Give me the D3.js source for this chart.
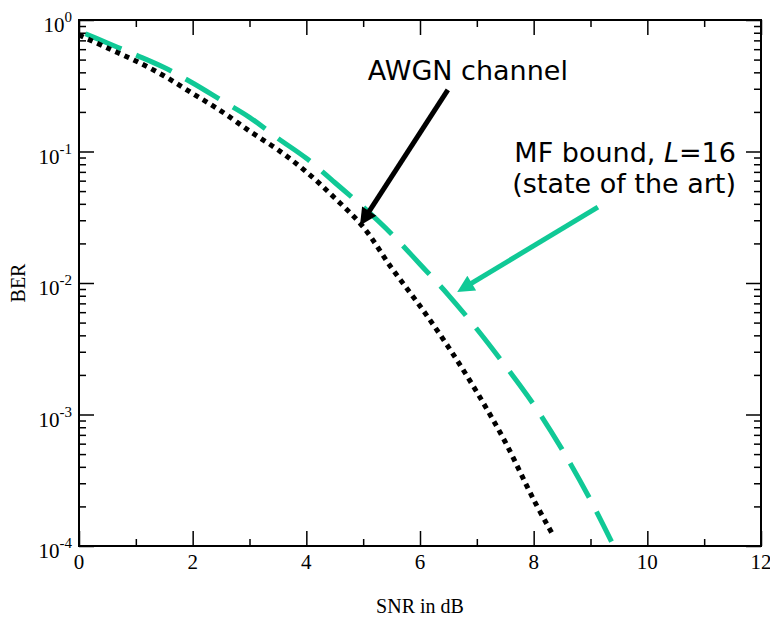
<!DOCTYPE html>
<html>
<head>
<meta charset="utf-8">
<script src="https://cdn.jsdelivr.net/npm/d3@7"></script>
<style>
  body { margin: 0; background: #fff; }
  svg { display: block; }
</style>
</head>
<body>
<div id="chart"></div>
<script>
// SNR in dB and BER
const snr_awgn = [0, 0.5, 1, 1.5, 2, 2.5, 3, 3.5, 4, 4.5, 5, 5.5, 6, 6.5, 7, 7.5, 8, 8.35];
const ber_awgn = [0.769, 0.612, 0.488, 0.375, 0.276, 0.203, 0.143, 0.103, 0.070, 0.0443, 0.0267, 0.0130, 0.00668, 0.00326, 0.00148, 0.000618, 0.000225, 0.000119];

const snr_mf = [0, 0.5, 1, 1.5, 2, 2.5, 3, 3.5, 4, 4.5, 5, 5.5, 6, 6.5, 7, 7.5, 8, 8.5, 9, 9.37];
const ber_mf = [0.824, 0.668, 0.542, 0.435, 0.332, 0.246, 0.182, 0.126, 0.0888, 0.0581, 0.0378, 0.0236, 0.0139, 0.0081, 0.00447, 0.00235, 0.00119, 0.000543, 0.000224, 0.000108];

const x_major = [0, 2, 4, 6, 8, 10, 12];
const x_minor = [1, 3, 5, 7, 9, 11];
const y_major_exp = [0, -1, -2, -3, -4];

// annotation arrows: [x0, y0, x1, y1] tail -> tip, in data units
const arrow_awgn = [6.49, 0.294, 4.96, 0.0281];
const arrow_mf = [9.13, 0.0378, 6.68, 0.00869];

const width = 770, height = 618;
const margin = {top: 20, right: 9, bottom: 72, left: 79};
const w = width - margin.left - margin.right;
const h = height - margin.top - margin.bottom;
const green = "#10c996";

const svg = d3.select("#chart").append("svg")
    .attr("width", width)
    .attr("height", height);

const g = svg.append("g")
    .attr("transform", `translate(${margin.left},${margin.top})`);

const x = d3.scaleLinear().domain([0, 12]).range([0, w]);
const y = d3.scaleLog().domain([1e-4, 1]).range([h, 0]);

// minor y ticks 2..9 per decade
const y_minor = [];
y_major_exp.slice(1).forEach(e => {
    for (let k = 2; k <= 9; k++) y_minor.push(k * Math.pow(10, e));
});
const y_major = y_major_exp.map(e => Math.pow(10, e));

function tickAxis(axis, values, size) {
    return axis.tickValues(values).tickSize(-size).tickFormat("");
}

const axes = g.append("g").attr("class", "axes");
axes.append("g").attr("transform", `translate(0,${h})`).call(tickAxis(d3.axisBottom(x), x_major, 15));
axes.append("g").attr("transform", `translate(0,${h})`).call(tickAxis(d3.axisBottom(x), x_minor, 7));
axes.append("g").call(tickAxis(d3.axisTop(x), x_major, 15));
axes.append("g").call(tickAxis(d3.axisTop(x), x_minor, 7));
axes.append("g").call(tickAxis(d3.axisLeft(y), y_major, 15));
axes.append("g").call(tickAxis(d3.axisLeft(y), y_minor, 7));
axes.append("g").attr("transform", `translate(${w},0)`).call(tickAxis(d3.axisRight(y), y_major, 15));
axes.append("g").attr("transform", `translate(${w},0)`).call(tickAxis(d3.axisRight(y), y_minor, 7));

axes.selectAll(".domain").remove();
axes.selectAll(".tick line").attr("stroke", "#000").attr("stroke-width", 1.5);

g.append("rect")
    .attr("width", w).attr("height", h)
    .attr("fill", "none").attr("stroke", "#000").attr("stroke-width", 2);

// tick labels
const serif = "'Liberation Serif', 'Times New Roman', serif";
g.selectAll(".xlab").data(x_major).enter().append("text")
    .attr("x", d => x(d)).attr("y", h + 23)
    .attr("text-anchor", "middle")
    .style("font-family", serif).style("font-size", "21px")
    .text(d => d);

const ylab = g.selectAll(".ylab").data(y_major_exp).enter().append("text")
    .attr("x", -7).attr("y", d => y(Math.pow(10, d)) + 12)
    .attr("text-anchor", "end")
    .style("font-family", serif).style("font-size", "21px");
ylab.append("tspan").text("10");
ylab.append("tspan").attr("dy", -10).style("font-size", "15px").text(d => d);

// axis titles
svg.append("text")
    .attr("x", margin.left + w / 2).attr("y", 613)
    .attr("text-anchor", "middle")
    .style("font-family", serif).style("font-size", "20px")
    .text("SNR in dB");
svg.append("text")
    .attr("transform", `translate(25,${margin.top + h / 2}) rotate(-90)`)
    .attr("text-anchor", "middle")
    .style("font-family", serif).style("font-size", "20px")
    .text("BER");

// curves
const line = d3.line()
    .x(d => x(d[0]))
    .y(d => y(d[1]))
    .curve(d3.curveCatmullRom.alpha(0.5));

const plot = g.append("g");
plot.append("path")
    .datum(d3.zip(snr_mf, ber_mf))
    .attr("d", line)
    .attr("fill", "none")
    .attr("stroke", green)
    .attr("stroke-width", 5)
    .attr("stroke-dasharray", "39,16")
    .attr("stroke-dashoffset", 48);

plot.append("path")
    .datum(d3.zip(snr_awgn, ber_awgn))
    .attr("d", line)
    .attr("fill", "none")
    .attr("stroke", "#000")
    .attr("stroke-width", 5)
    .attr("stroke-dasharray", "5,5");

// arrows
const defs = svg.append("defs");
function marker(id, color) {
    defs.append("marker")
        .attr("id", id)
        .attr("viewBox", "0 0 10 10")
        .attr("refX", 9).attr("refY", 5)
        .attr("markerUnits", "userSpaceOnUse")
        .attr("markerWidth", 21).attr("markerHeight", 17)
        .attr("orient", "auto")
        .append("path")
        .attr("d", "M0,0 L10,5 L0,10 Z")
        .attr("fill", color);
}
marker("head-black", "#000");
marker("head-green", green);

function arrow(a, color, id) {
    const x1 = x(a[2]), y1 = y(a[3]), x0 = x(a[0]), y0 = y(a[1]);
    const len = Math.hypot(x1 - x0, y1 - y0);
    // stop the shaft short so it doesn't poke out of the head
    const k = (len - 8) / len;
    g.append("line")
        .attr("x1", x0).attr("y1", y0)
        .attr("x2", x0 + (x1 - x0) * k).attr("y2", y0 + (y1 - y0) * k)
        .attr("stroke", color).attr("stroke-width", 5);
    g.append("line")
        .attr("x1", x0 + (x1 - x0) * k).attr("y1", y0 + (y1 - y0) * k)
        .attr("x2", x1).attr("y2", y1)
        .attr("stroke", color).attr("stroke-width", 1)
        .attr("marker-end", `url(#${id})`);
}
arrow(arrow_awgn, "#000", "head-black");
arrow(arrow_mf, green, "head-green");

// annotation text
const sans = "'DejaVu Sans', Verdana, sans-serif";
g.append("text")
    .attr("x", x(5.08)).attr("y", y(0.35))
    .style("font-family", sans).style("font-size", "27px")
    .text("AWGN channel");

const mf = g.append("text")
    .attr("x", x(11.56)).attr("y", y(0.0832))
    .attr("text-anchor", "end")
    .style("font-family", sans).style("font-size", "27px");
mf.append("tspan").text("MF bound, ");
mf.append("tspan").style("font-style", "italic").text("L");
mf.append("tspan").text("=16");
g.append("text")
    .attr("x", x(11.56)).attr("y", y(0.0832) + 31)
    .attr("text-anchor", "end")
    .style("font-family", sans).style("font-size", "27px")
    .text("(state of the art)");
</script>
</body>
</html>
